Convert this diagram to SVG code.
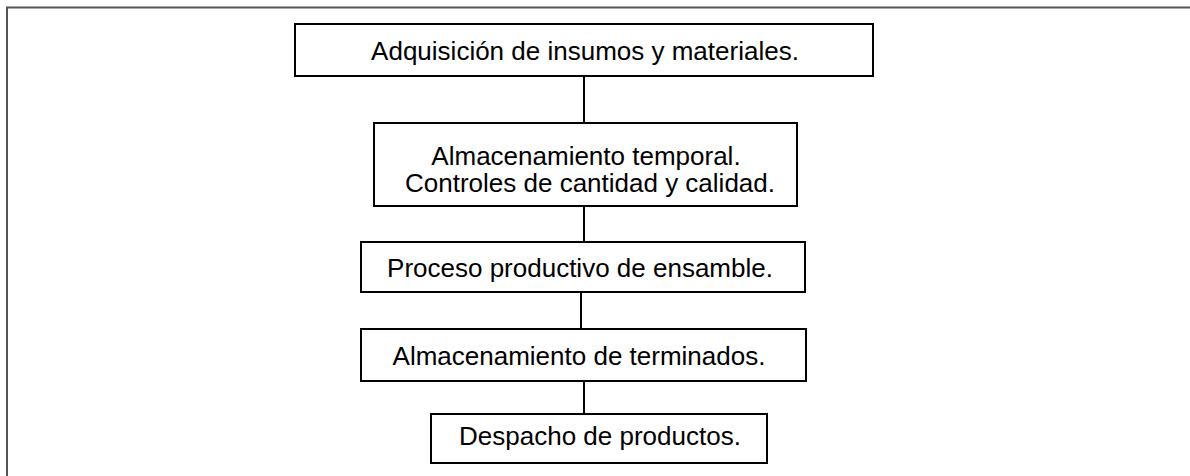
<svg xmlns="http://www.w3.org/2000/svg" width="1190" height="476" viewBox="0 0 1190 476">
<style>
.box{fill:#fff;stroke:#000;stroke-width:2}
.t{font-family:"Liberation Sans",Arial,sans-serif;font-size:26px;fill:#000;text-anchor:middle}
.c{stroke:#000;stroke-width:2;fill:none}
.frame{stroke:#555;stroke-width:2;fill:none}
</style>
<rect width="1190" height="476" fill="#fff"/>
<path class="frame" d="M7,480 V7.5 H1195"/>
<g id="connectors">
<line class="c" x1="584" y1="76" x2="584" y2="123"/>
<line class="c" x1="584" y1="206" x2="584" y2="242"/>
<line class="c" x1="581" y1="292" x2="581" y2="329"/>
<line class="c" x1="584" y1="381" x2="584" y2="414"/>
</g>
<g id="n1">
<rect class="box" x="295" y="24" width="578" height="52"/>
<text class="t" x="585" y="60">Adquisición de insumos y materiales.</text>
</g>
<g id="n2">
<rect class="box" x="374" y="123" width="423" height="83"/>
<text class="t" x="586" y="165">Almacenamiento temporal.</text>
<text class="t" x="590" y="192">Controles de cantidad y calidad.</text>
</g>
<g id="n3">
<rect class="box" x="361" y="242" width="444" height="50"/>
<text class="t" x="580" y="277">Proceso productivo de ensamble.</text>
</g>
<g id="n4">
<rect class="box" x="361" y="329" width="445" height="52"/>
<text class="t" x="579" y="365">Almacenamiento de terminados.</text>
</g>
<g id="n5">
<rect class="box" x="431" y="414" width="336" height="49"/>
<text class="t" x="600" y="445">Despacho de productos.</text>
</g>
</svg>
